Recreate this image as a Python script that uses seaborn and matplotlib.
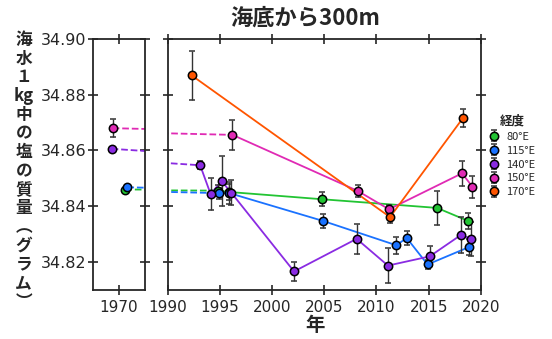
import matplotlib
matplotlib.use("Agg")
import matplotlib.pyplot as plt
import seaborn as sns
import pandas as pd

JP = ["Noto Sans CJK JP", "DejaVu Sans"]

LABELS = ["80°E", "115°E", "140°E", "150°E", "170°E"]
COLORS = ["#22c433", "#1a72ff", "#8a2be2", "#e02ab4", "#ff5500"]

# year, salinity, error for each longitude
green_x = [1970.6, 1994.8, 1995.9, 2004.8, 2015.8, 2018.8]
green_y = [34.8460, 34.8456, 34.8451, 34.8425, 34.8394, 34.8347]
green_e = [0.0005, 0.0020, 0.0030, 0.0025, 0.0060, 0.0030]

blue_x = [1970.8, 1994.9, 1995.9, 2004.9, 2011.9, 2012.9, 2014.9, 2018.9]
blue_y = [34.8468, 34.8447, 34.8447, 34.8347, 34.8260, 34.8286, 34.8191, 34.8254]
blue_e = [0.0005, 0.0020, 0.0040, 0.0025, 0.0030, 0.0025, 0.0015, 0.0030]

purple_x = [1969.3, 1993.1, 1994.1, 1995.15, 1996.1, 2002.1, 2008.1, 2011.1,
            2015.1, 2018.1, 2019.1]
purple_y = [34.8606, 34.8547, 34.8444, 34.8490, 34.8448, 34.8166, 34.8283,
            34.8187, 34.8220, 34.8297, 34.8283]
purple_e = [0.0008, 0.0014, 0.0056, 0.0089, 0.0045, 0.0034, 0.0054, 0.0062,
            0.0036, 0.0066, 0.0060]

pink_x = [1969.4, 1996.2, 2008.2, 2011.2, 2018.2, 2019.2]
pink_y = [34.8680, 34.8656, 34.8455, 34.8389, 34.8518, 34.8470]
pink_e = [0.0032, 0.0055, 0.0022, 0.0015, 0.0045, 0.0040]

orange_x = [1992.3, 2011.3, 2018.3]
orange_y = [34.8869, 34.8361, 34.8717]
orange_e = [0.0088, 0.0020, 0.0033]

series = [
    (green_x, green_y, green_e),
    (blue_x, blue_y, blue_e),
    (purple_x, purple_y, purple_e),
    (pink_x, pink_y, pink_e),
    (orange_x, orange_y, orange_e),
]

sns.set_style("ticks")
plt.rcParams["font.family"] = JP

fig = plt.figure(figsize=(5.52, 3.39), dpi=100)
ax_old = fig.add_axes([0.168, 0.145, 0.095, 0.740])
ax_new = fig.add_axes([0.304, 0.145, 0.567, 0.740])

handles = []
for (xs, ys, es), color, label in zip(series, COLORS, LABELS):
    df = pd.DataFrame({"year": xs, "sal": ys, "err": es})
    early = df[df.year < 1980]
    late = df[df.year >= 1980]
    for ax in (ax_old, ax_new):
        if len(early):
            link = pd.concat([early.tail(1), late.head(1)])
            sns.lineplot(data=link, x="year", y="sal", ax=ax, color=color,
                         linestyle="--", linewidth=1.3, estimator=None,
                         sort=False, zorder=2)
        sns.lineplot(data=late, x="year", y="sal", ax=ax, color=color,
                     linewidth=1.3, estimator=None, sort=False, zorder=2)
        h = ax.errorbar(df.year, df.sal, yerr=df.err, fmt="o", color=color,
                        markersize=6, markeredgecolor="black",
                        markeredgewidth=1.1, ecolor="#333333",
                        elinewidth=1.0, capsize=2, capthick=1.0, zorder=3)
    handles.append(h)

for ax in (ax_old, ax_new):
    if ax.get_legend() is not None:
        ax.get_legend().remove()
    ax.set_ylim(34.81, 34.90)
    ax.set_yticks([34.82, 34.84, 34.86, 34.88, 34.90])
    ax.set_xlabel("")
    ax.set_ylabel("")
    ax.tick_params(direction="inout", length=7, width=1.2, top=True,
                   right=True, labelsize=11)
    ax.tick_params(axis="y", pad=1)
    for sp in ax.spines.values():
        sp.set_visible(True)
        sp.set_linewidth(1.3)
    for lab in ax.get_xticklabels() + ax.get_yticklabels():
        lab.set_fontfamily("DejaVu Sans")

ax_old.set_xlim(1967.5, 1972.5)
ax_old.set_xticks([1970])
ax_old.set_yticklabels(["34.82", "34.84", "34.86", "34.88", "34.90"],
                       fontsize=11.5, fontfamily="DejaVu Sans")

ax_new.set_xlim(1990, 2020)
ax_new.set_xticks([1990, 1995, 2000, 2005, 2010, 2015, 2020])
ax_new.set_yticklabels([])

fig.text(0.553, 0.948, "海底から300m", ha="center", va="center",
         fontsize=16, fontweight="bold", family=JP)
fig.text(0.571, 0.04, "年", ha="center", va="center",
         fontsize=14, fontweight="bold", family=JP)

ylabel_chars = ["海", "水", "１", "kg", "中", "の", "塩", "の", "質", "量",
                "︵", "グ", "ラ", "ム", "︶"]
for i, ch in enumerate(ylabel_chars):
    fig.text(0.043, 0.882 - i * 0.0552, ch, ha="center", va="center",
             fontsize=12, fontweight="bold", family=JP)

leg = ax_new.legend(handles=handles, labels=LABELS, title="経度",
                    loc="upper left", bbox_to_anchor=(1.01, 0.715),
                    frameon=False, fontsize=8, title_fontsize=9,
                    handlelength=1.0, handletextpad=0.6, labelspacing=0.35,
                    borderaxespad=0.0)
leg.get_title().set_fontweight("bold")

fig.savefig("out.png", dpi=100)
